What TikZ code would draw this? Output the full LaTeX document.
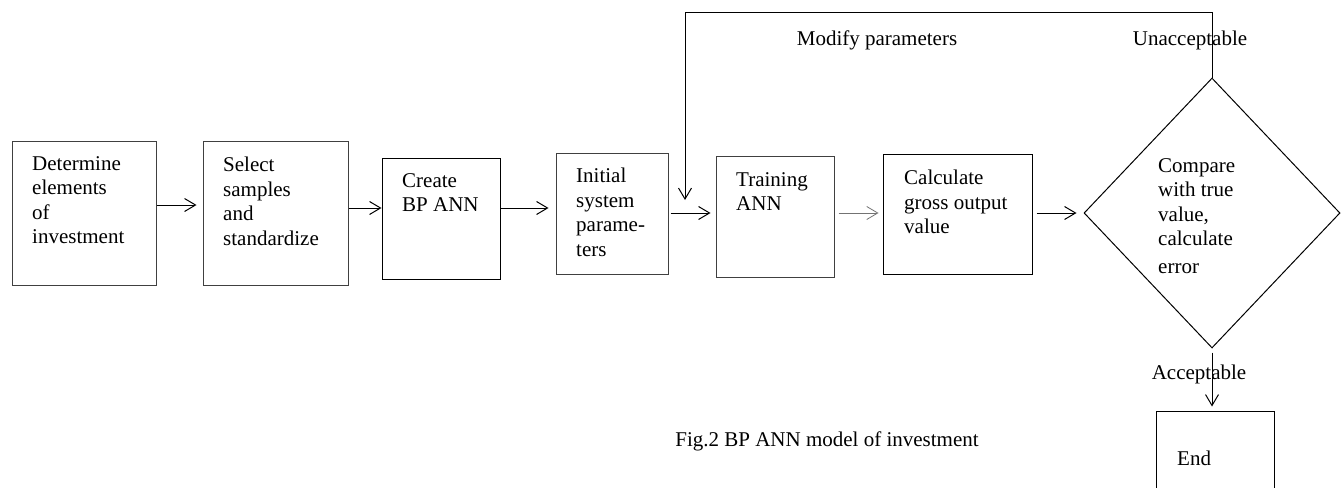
\documentclass[tikz,border=0pt]{standalone}
\usepackage{fontspec}
\setmainfont{Liberation Serif}
\usetikzlibrary{arrows.meta,shapes.geometric}
\begin{document}
\begin{tikzpicture}[x=1pt,y=-1pt,
 box/.style={draw=black!75, line width=1pt, rectangle, inner sep=0pt},
 dia/.style={draw=black, line width=1pt, diamond, inner sep=0pt},
 txt/.style={anchor=north west, align=left, inner sep=0pt, font=\fontsize{21}{24.5}\selectfont},
 lbl/.style={inner sep=0pt, font=\fontsize{21}{24.5}\selectfont},
 arr/.style={draw=black, line width=1pt, -{Straight Barb[length=11pt,width=13pt,line width=1pt]}},
 thinarr/.style={draw=black!55, line width=0.8pt, -{Straight Barb[length=11pt,width=13pt,line width=0.8pt]}},
]
\useasboundingbox (0,0) rectangle (1343,487);
\clip (0,0) rectangle (1343,487);

% boxes
\node[box, minimum width=144pt, minimum height=144pt] (b1) at (84,213) {};
\node[box, minimum width=145pt, minimum height=144pt] (b2) at (275.5,213) {};
\node[box, draw=black, minimum width=118pt, minimum height=121pt] (b3) at (441,218.5) {};
\node[box, minimum width=112pt, minimum height=121pt] (b4) at (612,213.5) {};
\node[box, minimum width=118pt, minimum height=121pt] (b5) at (775,216.5) {};
\node[box, draw=black, minimum width=149pt, minimum height=120pt] (b6) at (957.5,214) {};
\node[dia, minimum width=256pt, minimum height=270pt] (d) at (1212,213) {};
\node[box, draw=black, minimum width=118pt, minimum height=89pt] (e) at (1215,455.5) {};

% box texts
\node[txt] (t1) at (32,156) {Determine\\elements\\of\\investment};
\node[txt] (t2) at (223,157) {Select\\samples\\and\\standardize};
\node[txt] (t3) at (402,173) {Create\\BP ANN};
\node[txt] (t4) at (576,168) {Initial\\system\\parame-\\ters};
\node[txt] (t5) at (736,172) {Training\\ANN};
\node[txt] (t6) at (904,170) {Calculate\\gross output\\value};
\node[txt] (td) at (1158,158) {Compare\\with true\\value,\\calculate\\[3pt]error};
\node[txt] (te) at (1177,451) {End};

% arrows
\draw[arr] ([yshift=8pt]b1.east) -- ([xshift=-6pt,yshift=8pt]b2.west);
\draw[arr] ([yshift=5pt]b2.east) -- ([yshift=10.5pt]b3.west);
\draw[arr] ([yshift=10.5pt]b3.east) -- ([xshift=-7pt,yshift=5.5pt]b4.west);
\draw[arr] ([xshift=2pt,yshift=0.5pt]b4.east) -- ([xshift=-5pt,yshift=3.5pt]b5.west);
\draw[thinarr] ([xshift=4pt,yshift=3.5pt]b5.east) -- ([xshift=-4pt,yshift=1pt]b6.west);
\draw[arr] ([xshift=4pt,yshift=1pt]b6.east) -- ([xshift=-7pt]d.west);

% feedback loop
\coordinate (lt) at (685,13);
\coordinate (ltip) at (685,200);
\draw[arr] (d.north) |- (lt) -- (ltip);

% acceptable
\coordinate (etop) at ([yshift=4pt]d.south |- e.north);
\draw[arr] ([yshift=-4pt]d.south) -- (etop);

% labels
\node[lbl] (lm) at (877,40) {Modify parameters};
\node[lbl] (lu) at (1190,40) {Unacceptable};
\node[lbl] (la) at (1199,374) {Acceptable};
\node[lbl] (cap) at (827,441) {Fig.2 BP ANN model of investment};
\end{tikzpicture}
\end{document}
